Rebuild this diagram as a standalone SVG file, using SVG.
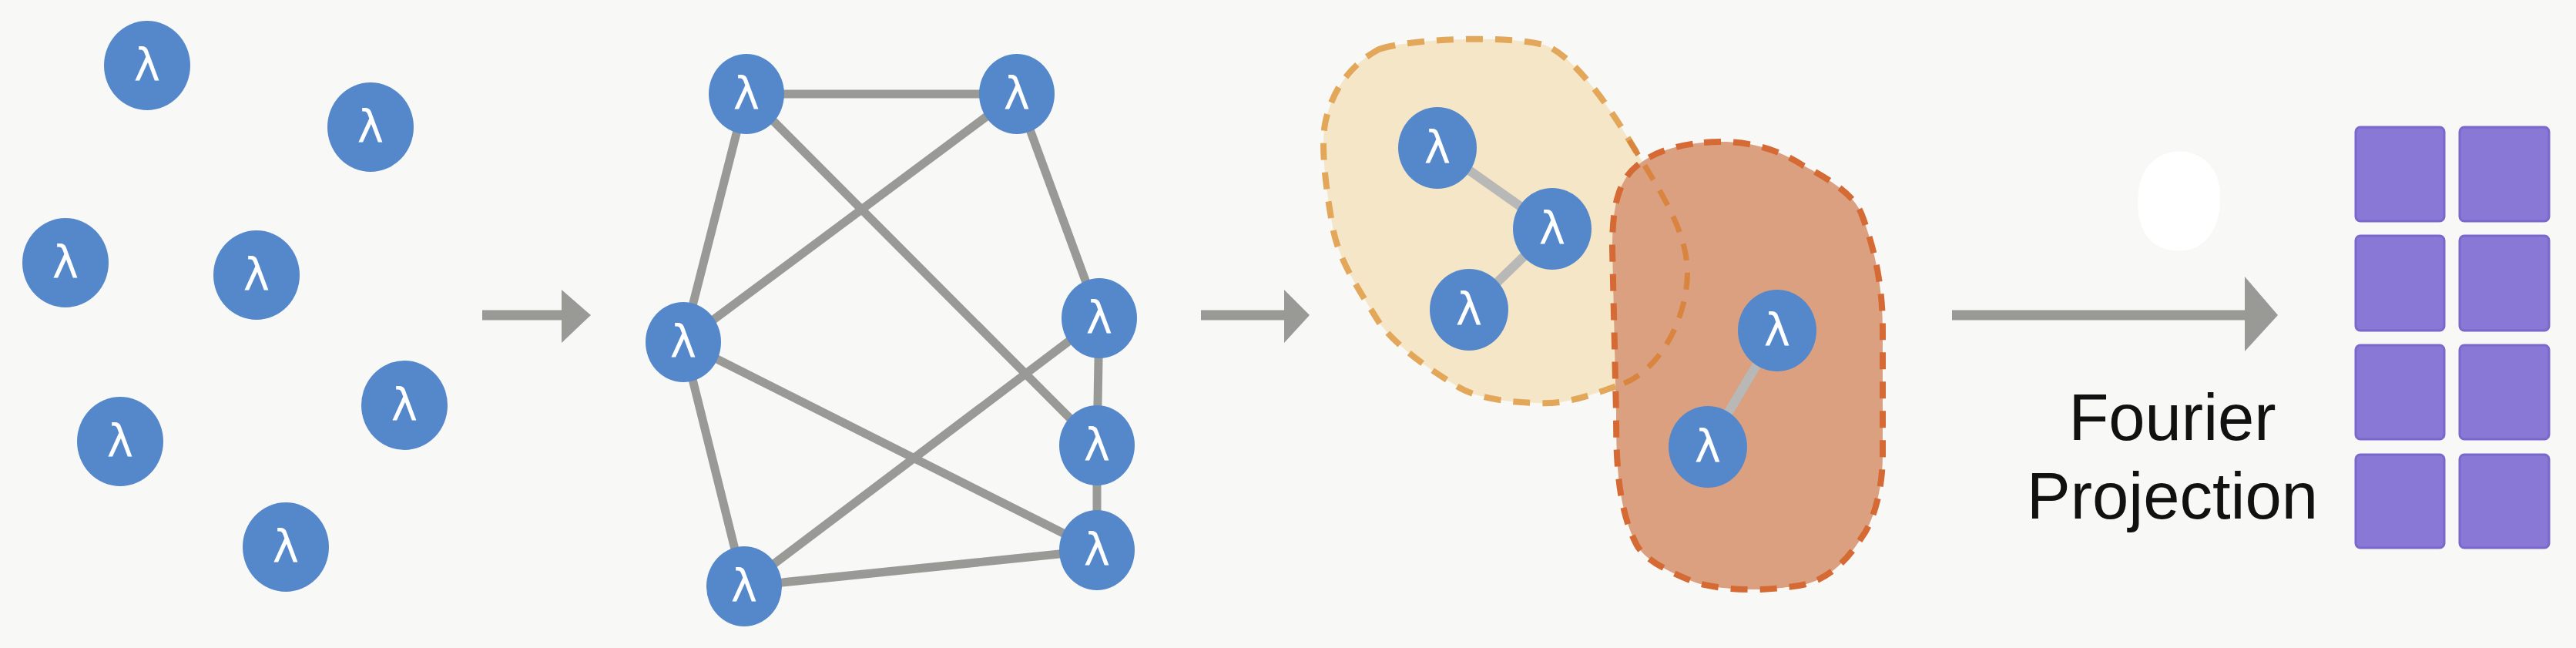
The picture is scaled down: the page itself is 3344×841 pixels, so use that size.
<svg xmlns="http://www.w3.org/2000/svg" width="3344" height="841" viewBox="0 0 3344 841">
<defs>
<style>
.n{fill:#5588cb}
.l{fill:#fff;font-family:"DejaVu Sans",sans-serif;font-size:58px;text-anchor:middle;dominant-baseline:central}
.e{stroke:#999995;stroke-width:11;stroke-linecap:round}
.e2{stroke:#b8b8b6;stroke-width:12}
.a{stroke:#999995;stroke-width:13}
.ah{fill:#999995}
.sq{fill:#8a78d6;stroke:#7b68cc;stroke-width:3}
.t{font-family:"Liberation Sans",Arial,sans-serif;font-size:85px;fill:#111;text-anchor:middle}
</style>
</defs>
<rect width="3344" height="841" fill="#f8f8f7"/>
<g id="connectors">
<line class="a" x1="626" y1="409" x2="732" y2="409"/><polygon class="ah" points="729,376 767,409 729,445"/>
<line class="a" x1="1559" y1="409" x2="1670" y2="409"/><polygon class="ah" points="1667,376 1700,409 1667,445"/>
<line class="a" x1="2534" y1="409" x2="2917" y2="409"/><polygon class="ah" points="2914,359 2957,409 2914,456"/>
<line class="e" x1="969" y1="122" x2="1320" y2="122"/>
<line class="e" x1="969" y1="122" x2="887" y2="444"/>
<line class="e" x1="969" y1="122" x2="1424" y2="578"/>
<line class="e" x1="1320" y1="122" x2="887" y2="444"/>
<line class="e" x1="1320" y1="122" x2="1427" y2="413"/>
<line class="e" x1="887" y1="444" x2="966" y2="761"/>
<line class="e" x1="887" y1="444" x2="1424" y2="714"/>
<line class="e" x1="1427" y1="413" x2="1424" y2="578"/>
<line class="e" x1="1424" y1="578" x2="1424" y2="714"/>
<line class="e" x1="1427" y1="413" x2="966" y2="761"/>
<line class="e" x1="966" y1="761" x2="1424" y2="714"/>
</g>
<g id="scatter">
<g id="s1"><ellipse class="n" cx="191" cy="85" rx="56" ry="58"/><text class="l" x="191" y="85">λ</text></g>
<g id="s2"><ellipse class="n" cx="481" cy="165" rx="56" ry="58"/><text class="l" x="481" y="165">λ</text></g>
<g id="s3"><ellipse class="n" cx="85" cy="341" rx="56" ry="58"/><text class="l" x="85" y="341">λ</text></g>
<g id="s4"><ellipse class="n" cx="333" cy="357" rx="56" ry="58"/><text class="l" x="333" y="357">λ</text></g>
<g id="s5"><ellipse class="n" cx="525" cy="526" rx="56" ry="58"/><text class="l" x="525" y="526">λ</text></g>
<g id="s6"><ellipse class="n" cx="156" cy="573" rx="56" ry="58"/><text class="l" x="156" y="573">λ</text></g>
<g id="s7"><ellipse class="n" cx="371" cy="710" rx="56" ry="58"/><text class="l" x="371" y="710">λ</text></g>
</g>
<g id="graph">
<g id="gA"><ellipse class="n" cx="969" cy="122" rx="49" ry="52"/><text class="l" x="969" y="122">λ</text></g>
<g id="gB"><ellipse class="n" cx="1320" cy="122" rx="49" ry="52"/><text class="l" x="1320" y="122">λ</text></g>
<g id="gC"><ellipse class="n" cx="887" cy="444" rx="49" ry="52"/><text class="l" x="887" y="444">λ</text></g>
<g id="gD"><ellipse class="n" cx="1427" cy="413" rx="49" ry="52"/><text class="l" x="1427" y="413">λ</text></g>
<g id="gE"><ellipse class="n" cx="1424" cy="578" rx="49" ry="52"/><text class="l" x="1424" y="578">λ</text></g>
<g id="gF"><ellipse class="n" cx="1424" cy="714" rx="49" ry="52"/><text class="l" x="1424" y="714">λ</text></g>
<g id="gG"><ellipse class="n" cx="966" cy="761" rx="49" ry="52"/><text class="l" x="966" y="761">λ</text></g>
</g>
<g id="clusters">
<path id="yellow" d="M1790,64 C1830,50 1960,45 2007,59 C2045,75 2090,140 2115,182 C2150,240 2185,290 2190,343 C2195,400 2160,480 2104,499 C2060,515 2030,525 1996,523 C1950,522 1910,515 1888,499 C1840,470 1805,440 1790,418 C1760,370 1740,340 1731,300 C1720,240 1715,190 1720,161 C1730,110 1760,80 1790,64 Z" fill="#f5e6c8" stroke="#e3a75a" stroke-width="8" stroke-dasharray="22,16"/>
<path id="orange" d="M2212,185 C2270,180 2310,195 2341,215 C2390,240 2410,260 2417,279 C2440,340 2444,390 2444,429 L2444,590 C2444,640 2430,680 2417,697 C2390,740 2360,760 2320,762 C2280,768 2230,765 2201,756 C2160,740 2135,725 2125,708 C2100,660 2098,600 2098,536 L2093,322 C2093,270 2100,235 2125,215 C2150,195 2180,188 2212,185 Z" fill="#dba07f" stroke="#d56a34" stroke-width="8" stroke-dasharray="22,16"/>
<path d="M2115,182 C2150,240 2185,290 2190,343 C2195,400 2160,480 2104,499" fill="none" stroke="#d9843f" stroke-width="7" stroke-dasharray="22,16"/>
</g>
<g id="cluster-edges">
<line class="e2" x1="1866" y1="192" x2="2015" y2="297"/>
<line class="e2" x1="2015" y1="297" x2="1907" y2="402"/>
<line class="e2" x1="2307" y1="429" x2="2217" y2="580"/>
</g>
<g id="cluster-nodes">
<g id="c1"><ellipse class="n" cx="1866" cy="192" rx="51" ry="53"/><text class="l" x="1866" y="192">λ</text></g>
<g id="c2"><ellipse class="n" cx="2015" cy="297" rx="51" ry="53"/><text class="l" x="2015" y="297">λ</text></g>
<g id="c3"><ellipse class="n" cx="1907" cy="402" rx="51" ry="53"/><text class="l" x="1907" y="402">λ</text></g>
<g id="c4"><ellipse class="n" cx="2307" cy="429" rx="51" ry="53"/><text class="l" x="2307" y="429">λ</text></g>
<g id="c5"><ellipse class="n" cx="2217" cy="580" rx="51" ry="53"/><text class="l" x="2217" y="580">λ</text></g>
</g>
<path d="M2800,205 C2830,185 2880,200 2882,250 C2884,300 2860,330 2820,325 C2780,320 2772,280 2776,250 C2778,225 2790,212 2800,205 Z" fill="#ffffff"/>
<g id="label">
<text class="t" x="2820" y="571">Fourier</text>
<text class="t" x="2820" y="673">Projection</text>
</g>
<g id="grid">
<rect class="sq" x="3058" y="165" width="115" height="122" rx="6"/>
<rect class="sq" x="3193" y="165" width="116" height="122" rx="6"/>
<rect class="sq" x="3058" y="306" width="115" height="123" rx="6"/>
<rect class="sq" x="3193" y="306" width="116" height="123" rx="6"/>
<rect class="sq" x="3058" y="448" width="115" height="122" rx="6"/>
<rect class="sq" x="3193" y="448" width="116" height="122" rx="6"/>
<rect class="sq" x="3058" y="590" width="115" height="121" rx="6"/>
<rect class="sq" x="3193" y="590" width="116" height="121" rx="6"/>
</g>
</svg>
